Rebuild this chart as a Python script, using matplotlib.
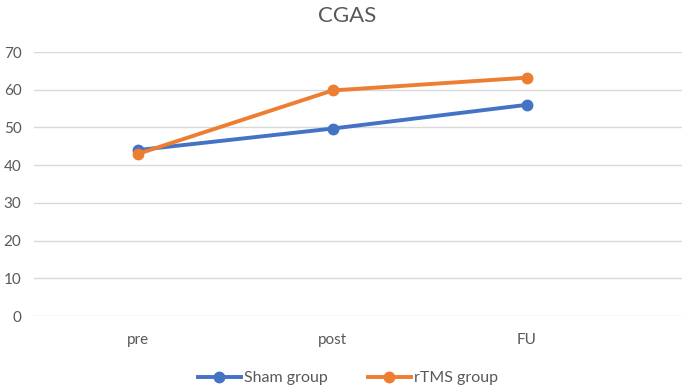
import matplotlib
matplotlib.use("Agg")
import matplotlib.pyplot as plt

# Data
categories = ["pre", "post", "FU"]
sham_values = [44.0, 49.7, 56.0]
rtms_values = [43.0, 59.8, 63.2]
y_ticks = [0, 10, 20, 30, 40, 50, 60, 70]

SHAM_COLOR = "#4472C4"
RTMS_COLOR = "#ED7D31"
TEXT_COLOR = "#595959"
GRID_COLOR = "#D9D9D9"

plt.rcParams["font.family"] = ["Lato", "DejaVu Sans"]

fig = plt.figure(figsize=(6.85, 3.88), dpi=100)
ax = fig.add_axes([34 / 685, 1 - 316 / 388, (682 - 34) / 685, (316 - 52) / 388])

x = list(range(len(categories)))
ax.plot(x, sham_values, "-o", color=SHAM_COLOR, linewidth=2.8, markersize=7.5,
        label="Sham group", clip_on=False, zorder=3)
ax.plot(x, rtms_values, "-o", color=RTMS_COLOR, linewidth=2.8, markersize=7.5,
        label="rTMS group", clip_on=False, zorder=4)

ax.set_xlim(-0.535, 2.797)
ax.set_ylim(0, 70)
ax.set_yticks(y_ticks)
ax.set_xticks(x)
ax.set_xticklabels(categories)
ax.grid(axis="y", color=GRID_COLOR, linewidth=1.0)
ax.set_axisbelow(True)
for side in ["top", "right", "left", "bottom"]:
    ax.spines[side].set_visible(False)
ax.tick_params(axis="both", length=0, colors=TEXT_COLOR, labelsize=11)
ax.tick_params(axis="y", pad=9)
ax.tick_params(axis="x", pad=12)

fig.text(347 / 685, 1 - 16 / 388, "CGAS", ha="center", va="center",
         fontsize=16, color=TEXT_COLOR)

fig.legend(loc="center", bbox_to_anchor=(348 / 685, 1 - 378 / 388), ncol=2,
           frameon=False, fontsize=11.5, labelcolor=TEXT_COLOR,
           handlelength=2.7, handletextpad=0.2, columnspacing=2.5)

fig.savefig("out.png", dpi=100)
